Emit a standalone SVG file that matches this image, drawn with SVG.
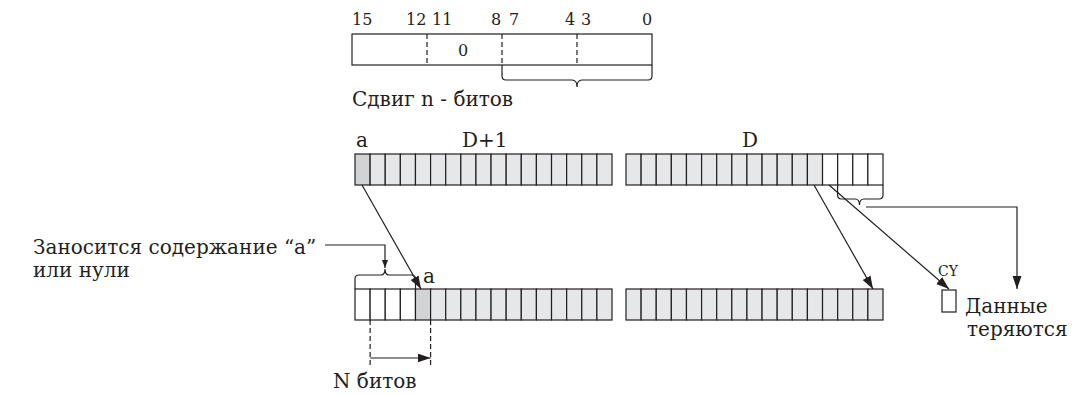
<svg xmlns="http://www.w3.org/2000/svg" width="1080" height="396" viewBox="0 0 1080 396">
<style>
text{font-family:"DejaVu Serif","Liberation Serif",serif;fill:#231f20}
.n{font-size:16px}
.l{font-size:20px}
.s{font-size:14px}
.c{stroke:#231f20;stroke-width:1.2}
.w{fill:#fff}
.g{fill:#e6e7e8}
.d{fill:#d1d3d4}
.ln{fill:none;stroke:#231f20;stroke-width:1.2}
.ds{fill:none;stroke:#231f20;stroke-width:1.2;stroke-dasharray:5,3}
</style>
<defs>
<marker id="ah" markerUnits="userSpaceOnUse" markerWidth="14" markerHeight="10" refX="13" refY="4.5" orient="auto">
<path d="M0,0 L13,4.5 L0,9 z" fill="#231f20"/>
</marker>
<marker id="ahs" markerUnits="userSpaceOnUse" markerWidth="9" markerHeight="8" refX="8" refY="3" orient="auto">
<path d="M0,0 L8,3 L0,6 z" fill="#231f20"/>
</marker>
</defs>

<g id="top-register">
<rect x="352" y="34" width="300" height="31" class="w c"/>
<line x1="427" y1="34" x2="427" y2="65" class="ds"/>
<line x1="502" y1="34" x2="502" y2="65" class="ds"/>
<line x1="577" y1="34" x2="577" y2="65" class="ds"/>
<text x="352" y="25" class="n">15</text>
<text x="406" y="25" class="n">12</text>
<text x="432" y="25" class="n">11</text>
<text x="491" y="25" class="n">8</text>
<text x="509" y="25" class="n">7</text>
<text x="565" y="25" class="n">4</text>
<text x="581" y="25" class="n">3</text>
<text x="642" y="25" class="n">0</text>
<text x="458" y="56" class="n">0</text>
<path d="M502,65 V76 Q502,80 506,80 H572 Q577,80 577,87 Q577,80 582,80 H648 Q652,80 652,76 V65" class="ln"/>
<text x="352" y="106" class="l">Сдвиг n - битов</text>
</g>

<g id="reg-d1-top">
<text x="356" y="147" class="l">a</text>
<text x="462" y="147" class="l">D+1</text>
<rect x="355" y="154" width="15.12" height="31" class="d c"/>
<rect x="370.12" y="154" width="15.12" height="31" class="g c"/>
<rect x="385.24" y="154" width="15.12" height="31" class="g c"/>
<rect x="400.35" y="154" width="15.12" height="31" class="g c"/>
<rect x="415.47" y="154" width="15.12" height="31" class="g c"/>
<rect x="430.59" y="154" width="15.12" height="31" class="g c"/>
<rect x="445.71" y="154" width="15.12" height="31" class="g c"/>
<rect x="460.82" y="154" width="15.12" height="31" class="g c"/>
<rect x="475.94" y="154" width="15.12" height="31" class="g c"/>
<rect x="491.06" y="154" width="15.12" height="31" class="g c"/>
<rect x="506.18" y="154" width="15.12" height="31" class="g c"/>
<rect x="521.29" y="154" width="15.12" height="31" class="g c"/>
<rect x="536.41" y="154" width="15.12" height="31" class="g c"/>
<rect x="551.53" y="154" width="15.12" height="31" class="g c"/>
<rect x="566.65" y="154" width="15.12" height="31" class="g c"/>
<rect x="581.76" y="154" width="15.12" height="31" class="g c"/>
<rect x="596.88" y="154" width="15.12" height="31" class="g c"/>
</g>

<g id="reg-d-top">
<text x="742" y="147" class="l">D</text>
<rect x="626" y="154" width="15.12" height="31" class="g c"/>
<rect x="641.12" y="154" width="15.12" height="31" class="g c"/>
<rect x="656.24" y="154" width="15.12" height="31" class="g c"/>
<rect x="671.35" y="154" width="15.12" height="31" class="g c"/>
<rect x="686.47" y="154" width="15.12" height="31" class="g c"/>
<rect x="701.59" y="154" width="15.12" height="31" class="g c"/>
<rect x="716.71" y="154" width="15.12" height="31" class="g c"/>
<rect x="731.82" y="154" width="15.12" height="31" class="g c"/>
<rect x="746.94" y="154" width="15.12" height="31" class="g c"/>
<rect x="762.06" y="154" width="15.12" height="31" class="g c"/>
<rect x="777.18" y="154" width="15.12" height="31" class="g c"/>
<rect x="792.29" y="154" width="15.12" height="31" class="g c"/>
<rect x="807.41" y="154" width="15.12" height="31" class="g c"/>
<rect x="822.53" y="154" width="15.12" height="31" class="w c"/>
<rect x="837.65" y="154" width="15.12" height="31" class="w c"/>
<rect x="852.76" y="154" width="15.12" height="31" class="w c"/>
<rect x="867.88" y="154" width="15.12" height="31" class="w c"/>
<path d="M837.6,185 V195 Q837.6,199 841.6,199 H855 Q859.5,199 859.5,205 Q859.5,199 864,199 H879 Q883,199 883,195 V185" class="ln"/>
</g>

<g id="reg-d1-bottom">
<text x="423" y="283" class="l">a</text>
<rect x="355" y="289" width="15.12" height="31" class="w c"/>
<rect x="370.12" y="289" width="15.12" height="31" class="w c"/>
<rect x="385.24" y="289" width="15.12" height="31" class="w c"/>
<rect x="400.35" y="289" width="15.12" height="31" class="w c"/>
<rect x="415.47" y="289" width="15.12" height="31" class="d c"/>
<rect x="430.59" y="289" width="15.12" height="31" class="g c"/>
<rect x="445.71" y="289" width="15.12" height="31" class="g c"/>
<rect x="460.82" y="289" width="15.12" height="31" class="g c"/>
<rect x="475.94" y="289" width="15.12" height="31" class="g c"/>
<rect x="491.06" y="289" width="15.12" height="31" class="g c"/>
<rect x="506.18" y="289" width="15.12" height="31" class="g c"/>
<rect x="521.29" y="289" width="15.12" height="31" class="g c"/>
<rect x="536.41" y="289" width="15.12" height="31" class="g c"/>
<rect x="551.53" y="289" width="15.12" height="31" class="g c"/>
<rect x="566.65" y="289" width="15.12" height="31" class="g c"/>
<rect x="581.76" y="289" width="15.12" height="31" class="g c"/>
<rect x="596.88" y="289" width="15.12" height="31" class="g c"/>
<path d="M355,289 V279 Q355,275 359,275 H381 Q385,275 385,269 Q385,275 389,275 H411.5 Q415.5,275 415.5,279 V289" class="ln"/>
</g>

<g id="reg-d-bottom">
<rect x="626" y="289" width="15.12" height="31" class="g c"/>
<rect x="641.12" y="289" width="15.12" height="31" class="g c"/>
<rect x="656.24" y="289" width="15.12" height="31" class="g c"/>
<rect x="671.35" y="289" width="15.12" height="31" class="g c"/>
<rect x="686.47" y="289" width="15.12" height="31" class="g c"/>
<rect x="701.59" y="289" width="15.12" height="31" class="g c"/>
<rect x="716.71" y="289" width="15.12" height="31" class="g c"/>
<rect x="731.82" y="289" width="15.12" height="31" class="g c"/>
<rect x="746.94" y="289" width="15.12" height="31" class="g c"/>
<rect x="762.06" y="289" width="15.12" height="31" class="g c"/>
<rect x="777.18" y="289" width="15.12" height="31" class="g c"/>
<rect x="792.29" y="289" width="15.12" height="31" class="g c"/>
<rect x="807.41" y="289" width="15.12" height="31" class="g c"/>
<rect x="822.53" y="289" width="15.12" height="31" class="g c"/>
<rect x="837.65" y="289" width="15.12" height="31" class="g c"/>
<rect x="852.76" y="289" width="15.12" height="31" class="g c"/>
<rect x="867.88" y="289" width="15.12" height="31" class="g c"/>
</g>

<g id="cy">
<text x="938" y="276" class="s">CY</text>
<rect x="942" y="290" width="14" height="22" class="w c"/>
</g>

<g id="label-fill">
<text x="33" y="254" class="l">Заносится содержание “a”</text>
<text x="33" y="277" class="l">или нули</text>
</g>

<g id="label-lost">
<text x="965" y="313" class="l">Данные</text>
<text x="967" y="336" class="l">теряются</text>
</g>

<g id="label-nbits">
<text x="333" y="388" class="l">N битов</text>
</g>

<g id="connectors">
<line x1="362" y1="185" x2="421" y2="289" class="ln" marker-end="url(#ah)"/>
<path d="M325,245 H385 V268" class="ln" marker-end="url(#ahs)"/>
<line x1="814" y1="185" x2="873" y2="289" class="ln" marker-end="url(#ah)"/>
<line x1="829" y1="185" x2="949" y2="289" class="ln" marker-end="url(#ah)"/>
<path d="M866,207 H1017 V289" class="ln" marker-end="url(#ah)"/>
<line x1="370.12" y1="320" x2="370.12" y2="366" class="ds"/>
<line x1="430.6" y1="320" x2="430.6" y2="366" class="ds"/>
<line x1="370.12" y1="358" x2="430.6" y2="358" class="ln" marker-end="url(#ah)"/>
</g>
</svg>
